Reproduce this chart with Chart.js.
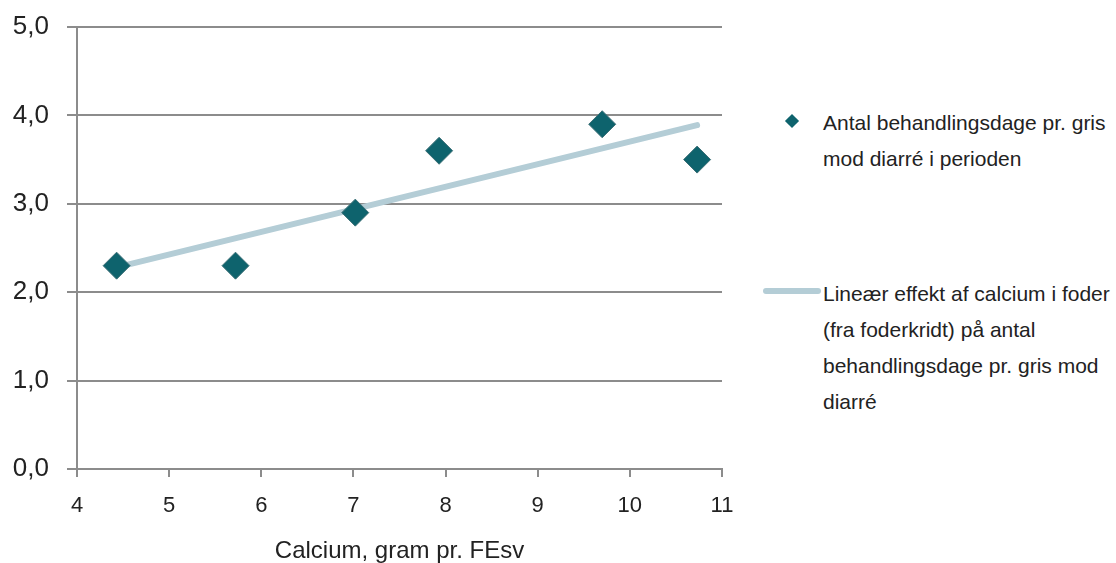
<!DOCTYPE html>
<html lang="da">
<head>
<meta charset="UTF-8">
<title>Calcium og diarré</title>
<script src="https://cdn.jsdelivr.net/npm/chart.js"></script>
<style>
    body { margin: 0; background: #fff; font-family: "Liberation Sans", Arial, sans-serif; overflow: hidden; }
    #wrap { position: relative; width: 1116px; height: 563px; overflow: hidden; }
    /* canvas sticks out above the page so the label padding Chart.js adds stays off-screen */
    #chartBox { position: absolute; left: 0; top: -13px; width: 752px; height: 576px; }
    .legend { position: absolute; left: 823px; width: 293px; font-size: 21px; line-height: 36px; color: #222; }
    .mark-diamond { position: absolute; width: 10px; height: 10px; background: #0e636d; transform: rotate(45deg); }
    .mark-line { position: absolute; height: 6px; border-radius: 3px; background: #b4cdd6; }
</style>
</head>
<body>
<div id="wrap">
    <div id="chartBox"><canvas id="myChart"></canvas></div>

    <span class="mark-diamond" style="left:787px; top:116px;"></span>
    <div class="legend" style="top:105px;">Antal behandlingsdage pr. gris mod diarré i perioden</div>

    <span class="mark-line" style="left:763px; top:288px; width:58px;"></span>
    <div class="legend" style="top:276px;">Lineær effekt af calcium i foder (fra foderkridt) på antal behandlingsdage pr. gris mod diarré</div>
</div>

<script>
    // observed points
    const calcium = [4.43, 5.72, 7.02, 7.93, 9.70, 10.73];
    const days = [2.3, 2.3, 2.9, 3.6, 3.9, 3.5];

    // linear trend line end points
    const trendX = [4.43, 10.73];
    const trendY = [2.28, 3.89];

    const xTicks = [4, 5, 6, 7, 8, 9, 10, 11];
    const yTicks = [0, 1, 2, 3, 4, 5];

    const gridColor = '#8c8c8c';

    var ctx = document.getElementById('myChart').getContext('2d');
    var myChart = new Chart(ctx, {
        type: 'scatter',
        data: {
            datasets: [
                {
                    label: 'Antal behandlingsdage pr. gris mod diarré i perioden',
                    data: calcium.map(function (x, i) { return { x: x, y: days[i] }; }),
                    pointStyle: 'rectRot',
                    pointRadius: 13.5,
                    backgroundColor: '#0e636d',
                    borderColor: '#3b6e75',
                    borderWidth: 1,
                    order: 1
                },
                {
                    type: 'line',
                    label: 'Lineær effekt af calcium i foder (fra foderkridt) på antal behandlingsdage pr. gris mod diarré',
                    data: trendX.map(function (x, i) { return { x: x, y: trendY[i] }; }),
                    borderColor: '#b4cdd6',
                    borderWidth: 6,
                    borderCapStyle: 'round',
                    pointRadius: 0,
                    fill: false,
                    order: 2
                }
            ]
        },
        options: {
            responsive: true,
            maintainAspectRatio: false,
            animation: false,
            layout: { padding: { top: 40, right: 30, left: 0, bottom: 0 } },
            plugins: {
                legend: { display: false },
                tooltip: { enabled: false }
            },
            scales: {
                x: {
                    type: 'linear',
                    min: 4,
                    max: 11,
                    afterBuildTicks: function (axis) { axis.ticks = xTicks.map(function (v) { return { value: v }; }); },
                    afterFit: function (axis) { axis.height = 94; },
                    grid: { drawOnChartArea: false, drawTicks: true, tickLength: 8, color: gridColor, lineWidth: 2 },
                    border: { color: gridColor, width: 2 },
                    ticks: { color: '#222', font: { size: 22, family: 'Liberation Sans' }, padding: 16 },
                    title: {
                        display: true,
                        text: 'Calcium, gram pr. FEsv',
                        color: '#222',
                        font: { size: 24, family: 'Liberation Sans', lineHeight: 1 },
                        padding: { top: 10, bottom: 0 }
                    }
                },
                y: {
                    min: 0,
                    max: 5,
                    afterBuildTicks: function (axis) { axis.ticks = yTicks.map(function (v) { return { value: v }; }); },
                    afterFit: function (axis) { axis.width = 77; },
                    grid: { color: gridColor, lineWidth: 2, tickLength: 10 },
                    border: { color: gridColor, width: 2 },
                    ticks: {
                        color: '#222',
                        font: { size: 26, family: 'Liberation Sans' },
                        padding: 18,
                        callback: function (v) { return v.toFixed(1).replace('.', ','); }
                    }
                }
            }
        }
    });
</script>
</body>
</html>
